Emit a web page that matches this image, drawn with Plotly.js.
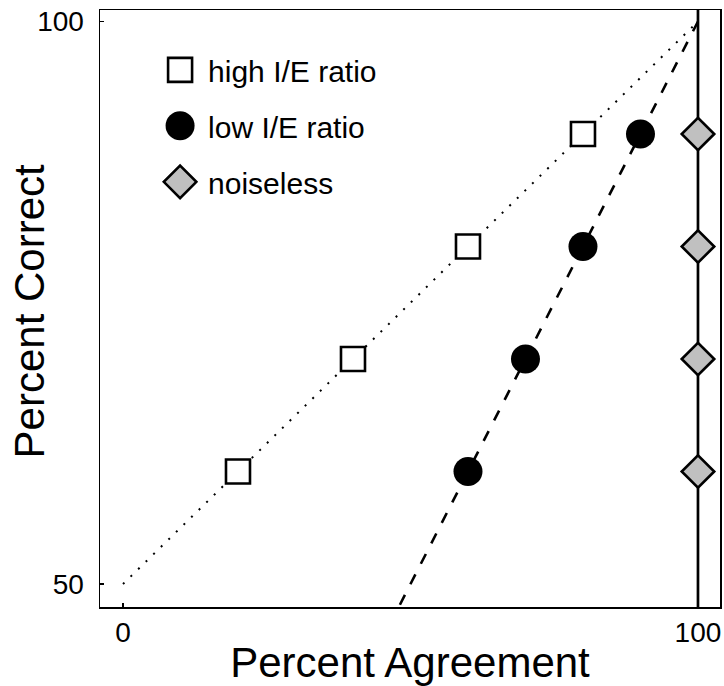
<!DOCTYPE html>
<html>
<head>
<meta charset="utf-8">
<script src="https://cdn.plot.ly/plotly-3.0.1.min.js"></script>
<style>
  html, body { margin: 0; padding: 0; background: #ffffff; }
  #chart { width: 724px; height: 686px; }
</style>
</head>
<body>
<div id="chart"></div>
<script>
// Percent correct against percent agreement for three network conditions
const highRatioAgreement = [20, 40, 60, 80];
const highRatioCorrect   = [60, 70, 80, 90];

const lowRatioAgreement  = [60, 70, 80, 90];
const lowRatioCorrect    = [60, 70, 80, 90];

const noiselessAgreement = [100, 100, 100, 100];
const noiselessCorrect   = [60, 70, 80, 90];

// Fitted trends: high ratio follows correct = 50 + agreement/2, low ratio follows correct = agreement
const highFitAgreement = [0, 100];
const highFitCorrect   = [50, 100];
const lowFitAgreement  = [100, 47];
const lowFitCorrect    = [100, 47];

// Noiseless condition always agrees fully
const fullAgreement = 100;

const xTickVals = [0, 100];
const yTickVals = [50, 100];

const FONT = '"Liberation Sans", Arial, Helvetica, sans-serif';

const traces = [
  {
    x: highFitAgreement, y: highFitCorrect,
    mode: 'lines', type: 'scatter', showlegend: false, hoverinfo: 'skip',
    line: { color: '#000000', width: 2, dash: '2px,8.6px' }
  },
  {
    x: lowFitAgreement, y: lowFitCorrect,
    mode: 'lines', type: 'scatter', showlegend: false, hoverinfo: 'skip',
    line: { color: '#000000', width: 2.6, dash: '11px,12px' }
  },
  {
    x: highRatioAgreement, y: highRatioCorrect,
    name: 'high I/E ratio', legendgroup: 'a',
    mode: 'markers', type: 'scatter', cliponaxis: false,
    marker: { symbol: 'square', size: 24, color: '#ffffff',
              line: { color: '#000000', width: 2.6 } }
  },
  {
    x: lowRatioAgreement, y: lowRatioCorrect,
    name: 'low I/E ratio', legendgroup: 'b',
    mode: 'markers', type: 'scatter', cliponaxis: false,
    marker: { symbol: 'circle', size: 29, color: '#000000',
              line: { color: '#000000', width: 0 } }
  },
  {
    x: noiselessAgreement, y: noiselessCorrect,
    name: 'noiseless', legendgroup: 'c',
    mode: 'markers', type: 'scatter', cliponaxis: false,
    marker: { symbol: 'diamond', size: 25, color: '#c0c0c0',
              line: { color: '#000000', width: 2.6 } }
  }
];

const axisCommon = {
  showgrid: false, zeroline: false,
  showline: true, mirror: true, linecolor: '#000000', linewidth: 1.5,
  ticks: 'inside', ticklen: 4, tickwidth: 1.5, tickcolor: '#000000',
  tickfont: { family: FONT, size: 28, color: '#000000' }
};

const layout = {
  width: 724, height: 686,
  margin: { l: 100, r: 4, t: 10, b: 79 },
  paper_bgcolor: '#ffffff', plot_bgcolor: '#ffffff',
  font: { family: FONT, color: '#000000' },
  showlegend: true,
  legend: {
    x: 0.084, y: 0.9433, xanchor: 'left', yanchor: 'top',
    bgcolor: 'rgba(0,0,0,0)', borderwidth: 0,
    itemwidth: 46, traceorder: 'grouped', tracegroupgap: 14,
    font: { family: FONT, size: 30, color: '#000000' }
  },
  xaxis: Object.assign({}, axisCommon, {
    range: [-4.0, 103.83], tickvals: xTickVals, ticktext: xTickVals.map(String),
    ticklabelstandoff: 0,
    title: { text: 'Percent Agreement', font: { family: FONT, size: 42, color: '#000000' }, standoff: 0 }
  }),
  yaxis: Object.assign({}, axisCommon, {
    range: [47.96, 101.02], tickvals: yTickVals, ticktext: yTickVals.map(String),
    ticklabelstandoff: 9
  }),
  shapes: [
    { type: 'line', xref: 'x', yref: 'paper', x0: fullAgreement, x1: fullAgreement, y0: 0, y1: 1,
      line: { color: '#000000', width: 2.7 }, layer: 'below' }
  ],
  annotations: [
    { text: 'Percent Correct', xref: 'paper', yref: 'paper', x: -0.113, y: 0.495,
      xanchor: 'center', yanchor: 'middle', textangle: -90, showarrow: false,
      font: { family: FONT, size: 42, color: '#000000' } }
  ]
};

Plotly.newPlot('chart', traces, layout, { displayModeBar: false, staticPlot: true }).then(function (gd) {
  // Legend glyphs are capped in size by the library; enlarge them to match the plotted markers
  gd.querySelectorAll('.legend .traces').forEach(function (item) {
    const d = item.__data__;
    if (!d || !d[0] || !d[0].trace) return;
    const size = d[0].trace.marker.size;
    item.querySelectorAll('.legendpoints path.scatterpts').forEach(function (p) {
      const t = p.getAttribute('transform') || '';
      p.setAttribute('transform', t + ' scale(' + (size / 16) + ')');
      p.style.vectorEffect = 'non-scaling-stroke';
    });
  });
});
</script>
</body>
</html>
